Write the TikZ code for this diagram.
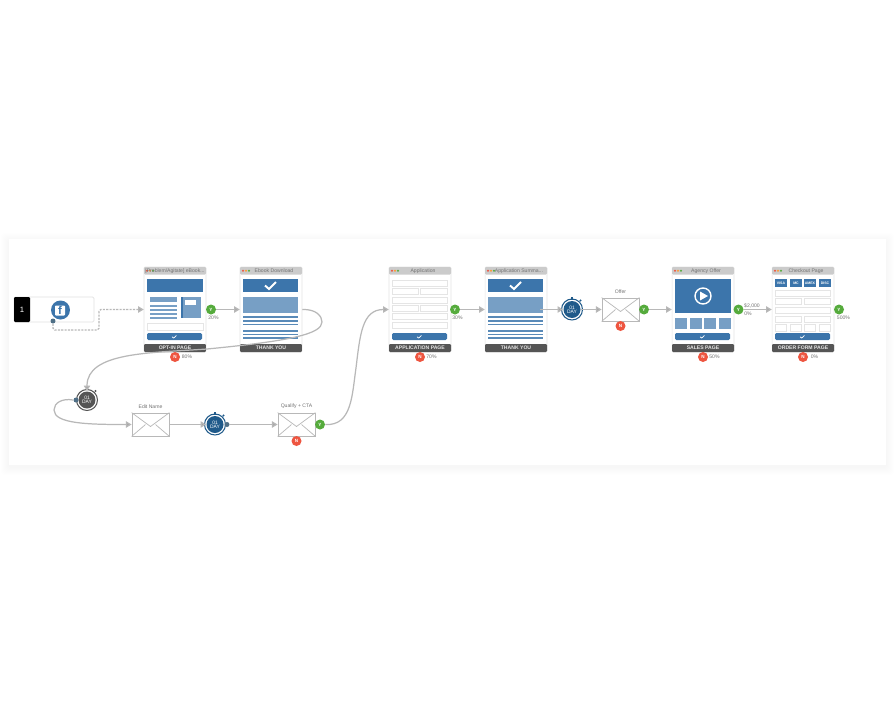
\documentclass[tikz,border=0pt]{standalone}
\usepackage{fontspec}
\setmainfont{Liberation Sans}
\usepackage{xcolor}
\usepackage{tikz}
\usetikzlibrary{arrows.meta}
\definecolor{pgblue}{HTML}{3C75AB}
\definecolor{pglight}{HTML}{779FC5}
\definecolor{pgfoot}{HTML}{555555}
\definecolor{pgbar}{HTML}{CBCBCB}
\definecolor{tmblue}{HTML}{1F5A8A}
\definecolor{dotblue}{HTML}{4F6F86}
\definecolor{okgreen}{HTML}{55AB3C}
\definecolor{nored}{HTML}{EE5540}
\tikzset{
  flow/.style={line width=0.7pt,draw=black!28,-{Triangle[length=3.2pt,width=3.6pt,fill=black!35]}},
  dashflow/.style={flow,dash pattern=on 1.2pt off 0.7pt},
  lbl/.style={font=\fontsize{2.9}{3.2}\selectfont,text=black!55,inner sep=0pt},
  pagecard/.style={draw=black!10,fill=white,line width=0.3pt,rounded corners=0.6pt,minimum width=1.24cm,minimum height=1.70cm,inner sep=0pt},
  pagefoot/.style={fill=pgfoot,rounded corners=0.6pt,minimum width=1.24cm,minimum height=0.16cm,inner sep=0pt,text=white!90!black,font=\fontsize{2.9}{3.2}\selectfont\bfseries},
  fld/.style={draw=black!10,fill=white,line width=0.45pt},
  ybadge/.style={circle,fill=okgreen,minimum size=0.2cm,inner sep=0pt,text=white,font=\fontsize{2.6}{3}\selectfont\bfseries},
  nbadge/.style={circle,fill=nored,minimum size=0.2cm,inner sep=0pt,text=white,font=\fontsize{2.6}{3}\selectfont\bfseries},
  envbox/.style={draw=black!28,fill=white,line width=0.45pt,minimum width=0.74cm,minimum height=0.46cm,inner sep=0pt},
  timerbox/.style={circle,minimum size=0.34cm,inner sep=0pt,align=center,text=white,font=\fontsize{2.8}{2.9}\selectfont},
  smalldot/.style={circle,fill=dotblue,minimum size=0.1cm,inner sep=0pt}
}
\newcommand{\pagebox}[5]{
  \node[pagecard] (#1) at (#2+31,309.5) {};
  \fill[pgbar,rounded corners=0.6pt] (#2,267) rectangle (#2+62,274.5);
  \fill[nored] (#2+3,270.7) circle (1.1); \fill[orange!80] (#2+6,270.7) circle (1.1); \fill[okgreen] (#2+9,270.7) circle (1.1);
  \node[lbl] (#1t) at (#2+#5,270.7) {#3};
  \node[pagefoot] (#1f) at (#2+31,348) {#4};
}
\newcommand{\btn}{
  \fill[pgblue,rounded corners=0.8pt] (3,66) rectangle (58,73);
  \draw[white,line width=0.4pt] (28,69.8) -- (29.7,71) -- (32.5,68.5);
}
\newcommand{\tkpage}[1]{
  \begin{scope}[shift={(#1,267)}]
  \fill[pgblue] (3,12) rectangle (58,25);
  \draw[white,line width=1.1pt] (25,18.5) -- (29,22) -- (36,15);
  \fill[pglight] (3,30) rectangle (58,46);
  \foreach \ly in {50,54,57.5,64,67.5,71}
    \fill[pgblue!85] (3,\ly-0.7) rectangle (58,\ly+0.7);
  \end{scope}
}
\newcommand{\envel}[4]{
  \node[envbox] (#1) at (#2,#3) {};
  \draw[black!28,line width=0.4pt] (#1.north west) -- (#2,#3+2) -- (#1.north east);
  \draw[black!28,line width=0.4pt] (#1.south west) -- (#2-5,#3) (#1.south east) -- (#2+5,#3);
  \node[lbl] (#1l) at (#2,#3-18) {#4};
}
\newcommand{\timer}[4]{
  \node[timerbox,fill=#4] (#1) at (#2,#3) {01\\[-0.5pt]DAY};
  \draw[#4,line width=0.6pt] (#2,#3) circle (10.5);
  \fill[#4] (#2-1.3,#3-13) rectangle (#2+1.3,#3-10);
  \fill[#4] (#2+8.5,#3-9) circle (1.2);
}
\begin{document}
\begin{tikzpicture}[x=0.02cm,y=-0.02cm]
\useasboundingbox (0,0) rectangle (895,710);
\foreach \sh in {1,...,8}
  \fill[black,opacity=0.005,rounded corners=2pt] (9-\sh,241-\sh) rectangle (886+\sh,467+\sh);
\fill[white] (9,239) rectangle (886,465);

\draw[black!12,fill=white,line width=0.45pt,rounded corners=0.8pt] (14,297) rectangle (94,322);
\fill[black,rounded corners=0.6pt] (14,297) rectangle (30,322);
\node[text=white,inner sep=0pt,font=\fontsize{4.4}{5}\selectfont] (adnum) at (22,310) {1};
\node[circle,fill=pgblue,minimum size=0.38cm,inner sep=0pt] (fbicon) at (60.5,310) {};
\node[fill=white,rounded corners=0.5pt,minimum size=0.2cm,inner sep=0pt,text=pgblue,font=\fontsize{6.5}{6.5}\selectfont\bfseries] (fbf) at (60,310.5) {f};
\node[smalldot] (fbdot) at (53,321) {};
\coordinate (fbcor) at (99,330);

\pagebox{optin}{144}{[Problem/Agitate] eBook...}{OPT-IN PAGE}{31}
\begin{scope}[shift={(144,267)}]
\fill[pgblue] (3,12) rectangle (59,25);
\fill[pglight] (6,30) rectangle (33,35);
\foreach \ly in {38.5,42.5,46.5,50.5}
  \fill[pglight] (6,\ly-1) rectangle (33,\ly+1);
\fill[pglight] (37,30) rectangle (57,51);
\fill[pgblue] (37,30) rectangle (38.5,51);
\fill[white] (41,33) rectangle (52,38);
\draw[fld] (3,56) rectangle (59,63);
\btn
\end{scope}

\pagebox{ebook}{240}{Ebook Download}{THANK YOU}{34}
\tkpage{240}

\pagebox{apppg}{389}{Application}{APPLICATION PAGE}{34}
\begin{scope}[shift={(389,267)}]
\foreach \fy in {13,30,46,55}
  \draw[fld] (3,\fy) rectangle (58,\fy+6);
\foreach \fy in {21,38} {
  \draw[fld] (3,\fy) rectangle (29.5,\fy+6);
  \draw[fld] (31.5,\fy) rectangle (58,\fy+6);
}
\btn
\end{scope}

\pagebox{tkyou}{485}{Application Summa...}{THANK YOU}{34}
\tkpage{485}

\pagebox{agency}{672}{Agency Offer}{SALES PAGE}{34}
\begin{scope}[shift={(672,267)}]
\fill[pgblue] (3,12) rectangle (59,46);
\draw[white,line width=0.8pt] (31,29) circle (8);
\fill[white] (28,24.5) -- (36,29) -- (28,33.5) -- cycle;
\foreach \sx in {3,18,32,47}
  \fill[pglight] (\sx,51) rectangle (\sx+12,62);
\btn
\end{scope}

\pagebox{chkout}{772}{Checkout Page}{ORDER FORM PAGE}{34}
\begin{scope}[shift={(772,267)}]
\foreach \cx/\ct in {3/VISA,18/MC,32/AMEX,47/DISC}
  \fill[pgblue] (\cx,12) rectangle (\cx+12,20) node[midway,white,inner sep=0pt,font=\fontsize{2}{2}\selectfont\bfseries] {\ct};
\foreach \fy in {23,40}
  \draw[fld] (3,\fy) rectangle (58,\fy+6.5);
\foreach \fy in {31,49} {
  \draw[fld] (3,\fy) rectangle (29,\fy+6.5);
  \draw[fld] (32,\fy) rectangle (58,\fy+6.5);
}
\foreach \fx in {3,18,32,47}
  \draw[fld] (\fx,57) rectangle (\fx+11,64);
\btn
\end{scope}

\node[ybadge] (optiny) at (211,309.5) {Y};
\node[lbl] (optinyp) at (213.5,318) {20\%};
\node[nbadge] (optinn) at (175,357) {N};
\node[lbl] (optinnp) at (187,357) {80\%};
\node[ybadge] (apppgy) at (455,309.5) {Y};
\node[lbl] (apppgyp) at (457.5,318) {30\%};
\node[nbadge] (apppgn) at (420,357) {N};
\node[lbl] (apppgnp) at (431.5,357) {70\%};
\node[ybadge] (agencyy) at (738.5,309.5) {Y};
\node[lbl] (agencyd) at (752,306) {\$2,000};
\node[lbl] (agencyyp) at (748,313.5) {0\%};
\node[nbadge] (agencyn) at (703,357) {N};
\node[lbl] (agencynp) at (714.5,357) {50\%};
\node[ybadge] (chkouty) at (839,309.5) {Y};
\node[lbl] (chkoutyp) at (843.5,318) {500\%};
\node[nbadge] (chkoutn) at (803,357) {N};
\node[lbl] (chkoutnp) at (814.5,357) {0\%};

\timer{offtm}{572}{309.5}{tmblue}
\envel{offer}{620.5}{309.5}{Offer}
\node[ybadge] (offery) at (644,309.5) {Y};
\node[nbadge] (offern) at (620.5,326) {N};

\timer{waitgr}{87}{400}{pgfoot}
\node[smalldot] (waitdot) at (76,400) {};
\envel{editn}{150.5}{424.5}{Edit Name}
\timer{waitbl}{215}{424.5}{tmblue}
\node[smalldot] (waitbldot) at (227,424.5) {};
\envel{qualy}{296.5}{424.5}{Qualify + CTA}
\node[ybadge] (qualyy) at (320,424.5) {Y};
\node[nbadge] (qualyn) at (296.5,441) {N};

\draw[dashflow,rounded corners=1pt] (fbdot) |- (fbcor) |- (optin.west);
\draw[flow] (optiny) -- (ebook.west);
\draw[flow] (ebook.east) .. controls (316,309) and (322,316) .. (322,322) .. controls (322,334) and (290,341) .. (207,349) .. controls (150,353) and (87,352) .. (waitgr.north);
\draw[flow] (waitdot.west) .. controls (62,398) and (54,403) .. (54,410) .. controls (54,424) and (90,424.5) .. (editn.west);
\draw[flow] (editn.east) -- (waitbl.west);
\draw[flow] (waitbldot.east) -- (qualy.west);
\draw[flow] (qualyy.east) .. controls (352,426) and (352,395) .. (356,368) .. controls (360,335) and (362,309.5) .. (apppg.west);
\draw[flow] (apppgy) -- (tkyou.west);
\draw[flow] ([xshift=-4pt]tkyou.east) -- (offtm.west);
\draw[flow] (offtm.east) -- (offer.west);
\draw[flow] (offery) -- (agency.west);
\draw[flow] (agencyy) -- (chkout.west);
\end{tikzpicture}
\end{document}
